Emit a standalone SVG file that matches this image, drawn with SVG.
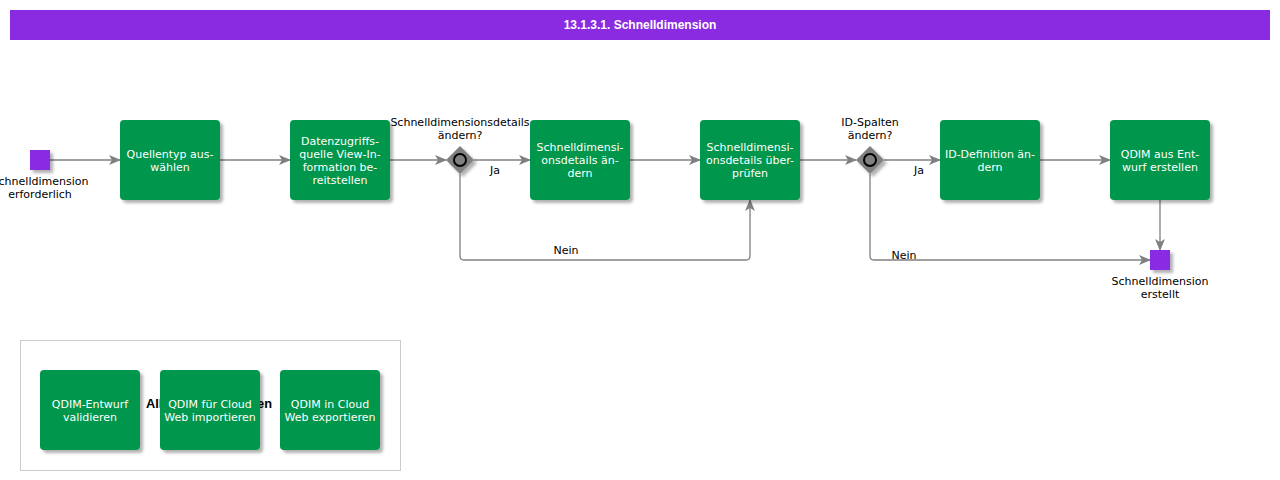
<svg xmlns="http://www.w3.org/2000/svg" width="1280" height="480" viewBox="0 0 1280 480">
<defs>
<filter id="sh" x="-20%" y="-20%" width="150%" height="150%">
<feDropShadow dx="3" dy="3" stdDeviation="1.5" flood-color="#000" flood-opacity="0.3"/>
</filter>
<marker id="arr" markerWidth="12" markerHeight="10" refX="11" refY="5" orient="auto" markerUnits="userSpaceOnUse">
<path d="M0,0 L12,5 L0,10 L3,5 z" fill="#808080"/>
</marker>
<style>
.task{fill:#00964b;filter:url(#sh)}
.tt{font-family:"DejaVu Sans",sans-serif;font-size:11px;fill:#fff;text-anchor:middle}
.lbl{font-family:"DejaVu Sans",sans-serif;font-size:11px;fill:#000;text-anchor:middle}
.ev{fill:#8a2be2;filter:url(#sh)}
.con{fill:none;stroke:#808080;stroke-width:1.3;marker-end:url(#arr)}
.gw{fill:#808080;filter:url(#sh)}
.gc{fill:#808080;stroke:#000;stroke-width:2}
</style>
</defs>
<rect width="1280" height="480" fill="#fff"/>
<g id="title">
<rect x="10" y="10" width="1260" height="30" fill="#8a2be2"/>
<text x="640" y="29" font-family="Liberation Sans, Arial, sans-serif" font-size="12" font-weight="bold" fill="#fff" text-anchor="middle">13.1.3.1. Schnelldimension</text>
</g>
<g id="group">
<rect x="20.5" y="340.5" width="380" height="130" fill="#fff" stroke="#cccccc"/>
<text x="209" y="408" font-family="Liberation Sans, Arial, sans-serif" font-size="12.8" font-weight="bold" fill="#000" text-anchor="middle">Allgemeine Aktionen</text>
</g>
<g id="connectors">
<path class="con" d="M50,160 H120"/>
<path class="con" d="M220,160 H290"/>
<path class="con" d="M390,160 H446"/>
<path class="con" d="M474,160 H530"/>
<path class="con" d="M630,160 H700"/>
<path class="con" d="M460,174 V256 Q460,260 464,260 H746 Q750,260 750,256 V200"/>
<path class="con" d="M800,160 H856"/>
<path class="con" d="M884,160 H940"/>
<path class="con" d="M1040,160 H1110"/>
<path class="con" d="M870,174 V256 Q870,260 874,260 H1150"/>
<path class="con" d="M1160,200 V250"/>
<text class="lbl" x="495" y="174">Ja</text>
<text class="lbl" x="919" y="174">Ja</text>
<text class="lbl" x="566" y="254">Nein</text>
<text class="lbl" x="904" y="259">Nein</text>
</g>
<g id="start">
<rect class="ev" x="30" y="150" width="20" height="20"/>
<text class="lbl" x="40" y="185">Schnelldimension</text>
<text class="lbl" x="40" y="198">erforderlich</text>
</g>
<g id="t1">
<rect class="task" x="120" y="120" width="100" height="80" rx="4"/>
<text class="tt" x="170" y="158">Quellentyp aus-</text>
<text class="tt" x="170" y="171">wählen</text>
</g>
<g id="t2">
<rect class="task" x="290" y="120" width="100" height="80" rx="4"/>
<text class="tt" x="340" y="145">Datenzugriffs-</text>
<text class="tt" x="340" y="158">quelle View-In-</text>
<text class="tt" x="340" y="171">formation be-</text>
<text class="tt" x="340" y="184">reitstellen</text>
</g>
<g id="gw1">
<path class="gw" d="M460,146 L474,160 L460,174 L446,160 z"/>
<circle class="gc" cx="460" cy="160" r="6"/>
<text class="lbl" x="460" y="126">Schnelldimensionsdetails</text>
<text class="lbl" x="460" y="139">ändern?</text>
</g>
<g id="t3">
<rect class="task" x="530" y="120" width="100" height="80" rx="4"/>
<text class="tt" x="580" y="151">Schnelldimensi-</text>
<text class="tt" x="580" y="164">onsdetails än-</text>
<text class="tt" x="580" y="177">dern</text>
</g>
<g id="t4">
<rect class="task" x="700" y="120" width="100" height="80" rx="4"/>
<text class="tt" x="750" y="151">Schnelldimensi-</text>
<text class="tt" x="750" y="164">onsdetails über-</text>
<text class="tt" x="750" y="177">prüfen</text>
</g>
<g id="gw2">
<path class="gw" d="M870,146 L884,160 L870,174 L856,160 z"/>
<circle class="gc" cx="870" cy="160" r="6"/>
<text class="lbl" x="870" y="126">ID-Spalten</text>
<text class="lbl" x="870" y="139">ändern?</text>
</g>
<g id="t5">
<rect class="task" x="940" y="120" width="100" height="80" rx="4"/>
<text class="tt" x="990" y="158">ID-Definition än-</text>
<text class="tt" x="990" y="171">dern</text>
</g>
<g id="t6">
<rect class="task" x="1110" y="120" width="100" height="80" rx="4"/>
<text class="tt" x="1160" y="158">QDIM aus Ent-</text>
<text class="tt" x="1160" y="171">wurf erstellen</text>
</g>
<g id="end">
<rect class="ev" x="1150" y="250" width="20" height="20"/>
<text class="lbl" x="1160" y="285">Schnelldimension</text>
<text class="lbl" x="1160" y="298">erstellt</text>
</g>
<g id="t7">
<rect class="task" x="40" y="370" width="100" height="80" rx="4"/>
<text class="tt" x="90" y="408">QDIM-Entwurf</text>
<text class="tt" x="90" y="421">validieren</text>
</g>
<g id="t8">
<rect class="task" x="160" y="370" width="100" height="80" rx="4"/>
<text class="tt" x="210" y="408">QDIM für Cloud</text>
<text class="tt" x="210" y="421">Web importieren</text>
</g>
<g id="t9">
<rect class="task" x="280" y="370" width="100" height="80" rx="4"/>
<text class="tt" x="330" y="408">QDIM in Cloud</text>
<text class="tt" x="330" y="421">Web exportieren</text>
</g>
</svg>
